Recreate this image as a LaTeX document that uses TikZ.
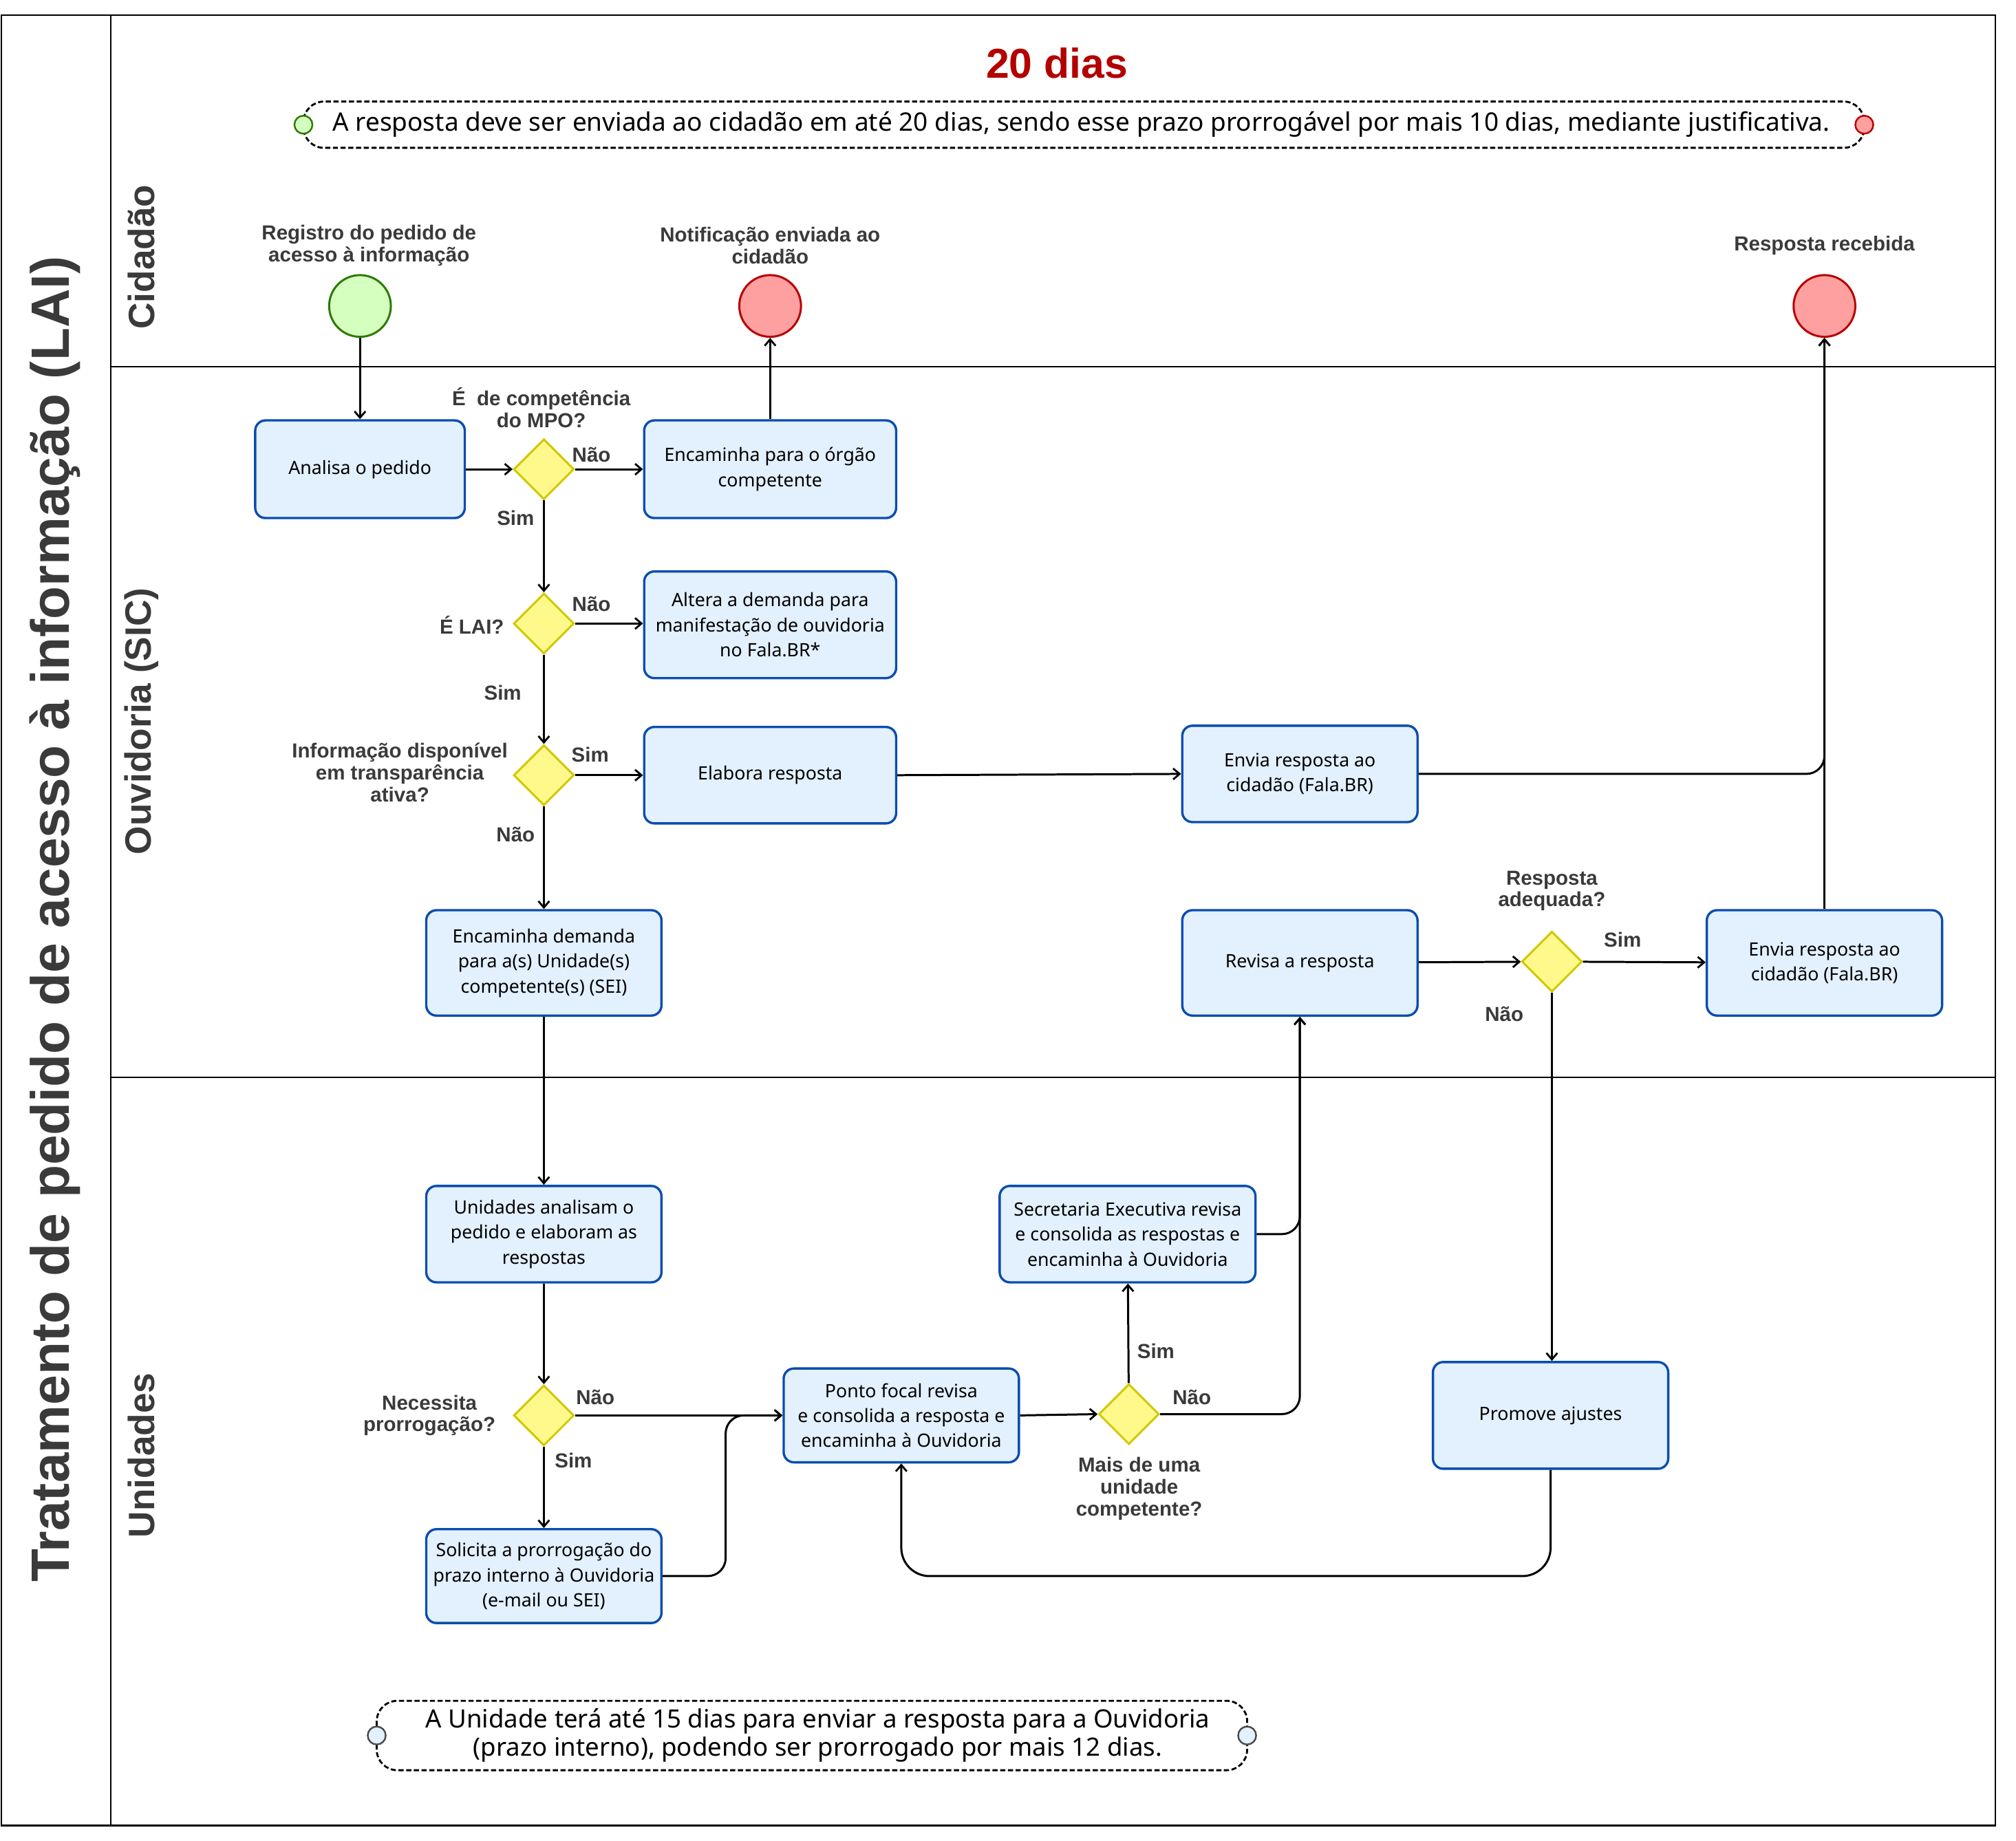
\documentclass[tikz,border=0pt]{standalone}
\usepackage{fontspec}
\setmainfont{Noto Sans}
\newfontfamily\lblfont{Liberation Sans}
\usetikzlibrary{arrows.meta,shapes.geometric,calc}
\definecolor{boxfill}{HTML}{E3F0FE}
\definecolor{boxdraw}{HTML}{0A4DAE}
\definecolor{dfill}{HTML}{FFF98C}
\definecolor{ddraw}{HTML}{D2C800}
\definecolor{lbl}{HTML}{3A3A3A}
\definecolor{redt}{HTML}{B30000}
\definecolor{gfill}{HTML}{D5FFBF}
\definecolor{gdraw}{HTML}{2D7A00}
\definecolor{rfill}{HTML}{FFA0A0}
\definecolor{rdraw}{HTML}{B80000}
\definecolor{cfill}{HTML}{E3F0FE}
\definecolor{cdraw}{HTML}{4A4A4A}
\tikzset{
  proc/.style={rectangle, rounded corners=8pt, draw=boxdraw, fill=boxfill, line width=1.8pt,
    align=center, font=\fontsize{14.3}{19.5}\selectfont, text=black, inner sep=2pt},
  dec/.style={diamond, aspect=1, draw=ddraw, fill=dfill, line width=1.6pt,
    minimum width=47pt, minimum height=47pt, inner sep=0pt},
  evstart/.style={circle, draw=gdraw, fill=gfill, line width=1.6pt, minimum size=48pt, inner sep=0pt},
  evend/.style={circle, draw=rdraw, fill=rfill, line width=1.6pt, minimum size=48pt, inner sep=0pt},
  blbl/.style={font=\lblfont\bfseries\fontsize{15.8}{17}\selectfont, text=lbl, align=center, inner sep=0pt},
  arr/.style={draw=black, line width=1.6pt, -{Straight Barb[length=5pt,width=8.5pt,line width=1.5pt]}},
  lane/.style={draw=black, line width=1.1pt},
  lanelbl/.style={font=\lblfont\bfseries\fontsize{28.5}{30}\selectfont, text=lbl, rotate=90, inner sep=0pt},
  note/.style={draw=black, line width=1.5pt, dash pattern=on 4pt off 2pt, rounded corners=16pt},
}
\begin{document}
\begin{tikzpicture}[x=1pt,y=-1pt]
\useasboundingbox (0,0) rectangle (1568,1432);
% pool and lanes
\draw[lane] (1,12) rectangle (1552,1420);
\draw[lane] (86,12) -- (86,1420);
\draw[lane] (86,285) -- (1552,285);
\draw[lane] (86,838) -- (1552,838);
\node[font=\lblfont\bfseries\fontsize{42}{44}\selectfont, text=lbl, rotate=90, inner sep=0pt] (title) at (43,715) {Tratamento de pedido de acesso à informação (LAI)};
\node[lanelbl] (lcid) at (110,200) {Cidadão};
\node[lanelbl] (louv) at (110,561) {Ouvidoria (SIC)};
\node[lanelbl] (luni) at (110,1132) {Unidades};

% top note
\node[font=\lblfont\bfseries\fontsize{32.5}{34}\selectfont, text=redt, inner sep=0pt] (dias) at (822,49) {20 dias};
\draw[note] (236,79) rectangle (1450,115);
\node[font=\fontsize{19.8}{22}\selectfont, inner sep=0pt] (tnote) at (841,97) {A resposta deve ser enviada ao cidadão em até 20 dias, sendo esse prazo prorrogável por mais 10 dias, mediante justificativa.};
\node[circle, draw=gdraw, fill=gfill, line width=1.3pt, minimum size=14pt, inner sep=0pt] (tn1) at (236,97) {};
\node[circle, draw=rdraw, fill=rfill, line width=1.3pt, minimum size=14pt, inner sep=0pt] (tn2) at (1450,97) {};

% bottom note
\draw[note] (293,1323) rectangle (970,1377);
\node[font=\fontsize{19.6}{22}\selectfont, align=center, inner sep=0pt] (bnote) at (636,1350) {A Unidade terá até 15 dias para enviar a resposta para a Ouvidoria\\(prazo interno), podendo ser prorrogado por mais 12 dias.};
\node[circle, draw=cdraw, fill=cfill, line width=1.3pt, minimum size=14pt, inner sep=0pt] (bn1) at (293,1350) {};
\node[circle, draw=cdraw, fill=cfill, line width=1.3pt, minimum size=14pt, inner sep=0pt] (bn2) at (970,1350) {};

% events
\node[evstart] (st) at (280,238) {};
\node[blbl] (stl) at (287,191) {Registro do pedido de\\acesso à informação};
\node[evend] (notif) at (599,238) {};
\node[blbl] (notifl) at (599,191) {Notificação enviada ao\\cidadão};
\node[evend] (resp) at (1419,238) {};
\node[blbl] (respl) at (1419,191) {Resposta recebida};

% Ouvidoria
\node[proc, minimum width=163pt, minimum height=76pt] (an) at (280,365) {Analisa o pedido};
\node[dec] (d1) at (423,365) {};
\node[blbl] (d1l) at (421,317) {É\ \ de competência\\do MPO?};
\node[proc, minimum width=196pt, minimum height=76pt] (enc) at (599,365) {Encaminha para o órgão\\competente};
\node[dec] (d2) at (423,485) {};
\node[blbl] (d2l) at (367,486) {É LAI?};
\node[proc, minimum width=196pt, minimum height=83pt] (alt) at (599,486) {Altera a demanda para\\manifestação de ouvidoria\\no Fala.BR*};
\node[dec] (d3) at (423,603) {};
\node[blbl] (d3l) at (311,601) {Informação disponível\\em transparência\\ativa?};
\node[proc, minimum width=196pt, minimum height=75pt] (ela) at (599,603) {Elabora resposta};
\node[proc, minimum width=183pt, minimum height=75pt] (env1) at (1011,602) {Envia resposta ao\\cidadão (Fala.BR)};
\node[proc, minimum width=183pt, minimum height=82pt] (encd) at (423,749) {Encaminha demanda\\para a(s) Unidade(s)\\competente(s) (SEI)};
\node[proc, minimum width=183pt, minimum height=82pt] (rev) at (1011,749) {Revisa a resposta};
\node[dec] (d4) at (1207,748) {};
\node[blbl] (d4l) at (1207,693) {Resposta\\adequada?};
\node[proc, minimum width=183pt, minimum height=82pt] (env2) at (1419,749) {Envia resposta ao\\cidadão (Fala.BR)};

% Unidades
\node[proc, minimum width=183pt, minimum height=75pt] (ua) at (423,960) {Unidades analisam o\\pedido e elaboram as\\respostas};
\node[proc, minimum width=199pt, minimum height=75pt] (sec) at (877,960) {Secretaria Executiva revisa\\e consolida as respostas e\\encaminha à Ouvidoria};
\node[dec] (d5) at (423,1101) {};
\node[blbl] (d5l) at (334,1101) {Necessita\\prorrogação?};
\node[proc, minimum width=183pt, minimum height=73pt] (pf) at (701,1101) {Ponto focal revisa\\e consolida a resposta e\\encaminha à Ouvidoria};
\node[dec] (d6) at (878,1100) {};
\node[blbl] (d6l) at (886,1158) {Mais de uma\\unidade\\competente?};
\node[proc, minimum width=183pt, minimum height=83pt] (pa) at (1206,1101) {Promove ajustes};
\node[proc, minimum width=183pt, minimum height=73pt] (sol) at (423,1226) {Solicita a prorrogação do\\prazo interno à Ouvidoria\\(e-mail ou SEI)};
\coordinate (low) at (0,1226);

% edge labels
\node[blbl] (l1) at (460,354) {Não};
\node[blbl] (l2) at (401,403) {Sim};
\node[blbl] (l3) at (460,470) {Não};
\node[blbl] (l4) at (391,539) {Sim};
\node[blbl] (l5) at (459,587) {Sim};
\node[blbl] (l6) at (401,649) {Não};
\node[blbl] (l7) at (1262,731) {Sim};
\node[blbl] (l8) at (1170,789) {Não};
\node[blbl] (l9) at (463,1087) {Não};
\node[blbl] (l10) at (446,1136) {Sim};
\node[blbl] (l11) at (899,1051) {Sim};
\node[blbl] (l12) at (927,1087) {Não};

% connectors
\draw[arr] (st) -- (an);
\draw[arr] (an) -- (d1);
\draw[arr] (d1) -- (enc);
\draw[arr] (enc) -- (notif);
\draw[arr] (d1) -- (d2);
\draw[arr] (d2.east) -- (d2.east -| alt.west);
\draw[arr] (d2) -- (d3);
\draw[arr] (d3) -- (ela);
\draw[arr] (d3) -- (encd);
\draw[arr] (ela.east) -- (env1.west);
\draw[arr, rounded corners=14pt] (env1.east) -| (resp.south);
\draw[arr] (env2.north) -- (resp.south);
\draw[arr] (encd) -- (ua);
\draw[arr] (ua) -- (d5);
\draw[arr] (d5) -- (pf);
\draw[arr] (d5) -- (sol);
\draw[arr, rounded corners=14pt] (sol.east) -- ++(49,0) |- (pf.west);
\draw[arr] (pf.east) -- (d6.west);
\draw[arr] (d6) -- (sec);
\draw[arr, rounded corners=14pt] (d6.east) -| (rev.south);
\draw[arr, rounded corners=14pt] (sec.east) -| (rev.south);
\draw[arr] (rev) -- (d4);
\draw[arr] (d4) -- (env2);
\draw[arr] (d4.south) -- (d4.south |- pa.north);
\draw[arr, rounded corners=22pt] (pa.south) |- (pf.south |- low) -- (pf.south);
\end{tikzpicture}
\end{document}
